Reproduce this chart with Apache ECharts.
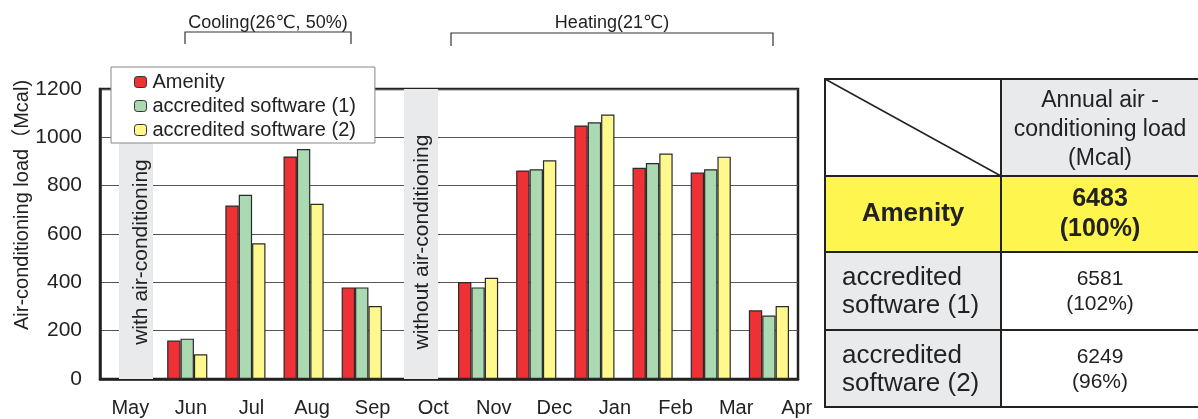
<!DOCTYPE html>
<html>
<head>
<meta charset="utf-8">
<script src="https://cdn.jsdelivr.net/npm/echarts@6/dist/echarts.min.js"></script>
<style>
html,body{margin:0;padding:0;background:#fff;}
#chart{width:1198px;height:419px;}
</style>
</head>
<body>
<div id="chart"></div>
<script>
// ---- data ----
const months = ['May','Jun','Jul','Aug','Sep','Oct','Nov','Dec','Jan','Feb','Mar','Apr'];
const seriesNames = ['Amenity','accredited software (1)','accredited software (2)'];
const amenity   = [null,159,718,921,379,null,401,863,1049,874,854,284];
const software1 = [null,167,762,952,379,null,379,868,1062,894,868,263];
const software2 = [null,102,562,725,302,null,419,905,1094,933,920,302];
const yTicks = [0,200,400,600,800,1000,1200];
const tableRowNames = ['Amenity','accredited\nsoftware (1)','accredited\nsoftware (2)'];
const tableTotals = [6483,6581,6249];
const tablePercents = ['100%','102%','96%'];
const tableHeader = 'Annual air -\nconditioning load\n(Mcal)';

const FONT = '"Liberation Sans", Arial, "DejaVu Sans", "Noto Sans CJK SC", sans-serif';
const colors = ['#ee3134','#abd9b2','#fff88c'];
const TXT = '#222';

const chart = echarts.init(document.getElementById('chart'), null, {renderer:'canvas'});

const graphics = [];
// grey boxes
graphics.push({type:'rect', z:1, shape:{x:119,y:89,width:34,height:290}, style:{fill:'#e9eaec'}});
graphics.push({type:'rect', z:1, shape:{x:404,y:89,width:34,height:290}, style:{fill:'#e9eaec'}});
graphics.push({type:'text', z:3, x:141, y:252, rotation:Math.PI/2,
  style:{text:'with air-conditioning', font:'21px '+FONT, fill:TXT, align:'center', verticalAlign:'middle'}});
graphics.push({type:'text', z:3, x:422, y:242, rotation:Math.PI/2,
  style:{text:'without air-conditioning', font:'21px '+FONT, fill:TXT, align:'center', verticalAlign:'middle'}});
// y axis title
graphics.push({type:'text', z:3, x:22, y:205, rotation:Math.PI/2,
  style:{text:'Air-conditioning load（Mcal)', font:'20px '+FONT, fill:TXT, align:'center', verticalAlign:'middle'}});
// season brackets
graphics.push({type:'text', z:3, x:268, y:23,
  style:{text:'Cooling(26℃, 50%)', font:'18px '+FONT, fill:TXT, align:'center', verticalAlign:'middle'}});
graphics.push({type:'polyline', z:3, shape:{points:[[185,44],[185,32],[351,32],[351,44]]}, style:{stroke:'#333', lineWidth:1.2, fill:null}});
graphics.push({type:'text', z:3, x:612, y:23,
  style:{text:'Heating(21℃)', font:'18px '+FONT, fill:TXT, align:'center', verticalAlign:'middle'}});
graphics.push({type:'polyline', z:3, shape:{points:[[451,46],[451,33],[773,33],[773,46]]}, style:{stroke:'#333', lineWidth:1.2, fill:null}});

// table
const tx0 = 825, tx1 = 1001, tx2 = 1205;
const rowY = [79,176,252,330,407];
graphics.push({type:'rect', z:1, shape:{x:tx1,y:rowY[0],width:tx2-tx1,height:rowY[1]-rowY[0]}, style:{fill:'#e9eaec'}});
graphics.push({type:'rect', z:1, shape:{x:tx0,y:rowY[1],width:tx2-tx0,height:rowY[2]-rowY[1]}, style:{fill:'#fff54f'}});
graphics.push({type:'rect', z:1, shape:{x:tx0,y:rowY[2],width:tx1-tx0,height:rowY[4]-rowY[2]}, style:{fill:'#e9eaec'}});
const lineStyle = {stroke:'#222', lineWidth:2};
rowY.forEach(y=>graphics.push({type:'line', z:2, shape:{x1:tx0-1,y1:y,x2:tx2,y2:y}, style:lineStyle}));
graphics.push({type:'line', z:2, shape:{x1:tx0,y1:rowY[0],x2:tx0,y2:rowY[4]}, style:lineStyle});
graphics.push({type:'line', z:2, shape:{x1:tx1,y1:rowY[0],x2:tx1,y2:rowY[4]}, style:lineStyle});
graphics.push({type:'line', z:2, shape:{x1:tx0,y1:rowY[0],x2:tx1,y2:rowY[1]}, style:{stroke:'#222', lineWidth:1.5}});
graphics.push({type:'text', z:3, x:1100, y:130,
  style:{text:tableHeader, font:'23px '+FONT, lineHeight:29, fill:TXT, align:'center', verticalAlign:'middle'}});
tableRowNames.forEach((name,i)=>{
  const cy = (rowY[i+1]+rowY[i+2])/2;
  if(i===0){
    graphics.push({type:'text', z:3, x:(tx0+tx1)/2, y:cy,
      style:{text:name, font:'bold 26px '+FONT, fill:TXT, align:'center', verticalAlign:'middle'}});
    graphics.push({type:'text', z:3, x:1100, y:cy,
      style:{text:tableTotals[i]+'\n('+tablePercents[i]+')', font:'bold 25px '+FONT, lineHeight:30, fill:TXT, align:'center', verticalAlign:'middle'}});
  } else {
    graphics.push({type:'text', z:3, x:842, y:cy+1,
      style:{text:name, font:'26px '+FONT, lineHeight:28, fill:TXT, align:'left', verticalAlign:'middle'}});
    graphics.push({type:'text', z:3, x:1100, y:cy+1,
      style:{text:tableTotals[i]+'\n('+tablePercents[i]+')', font:'21px '+FONT, lineHeight:25, fill:TXT, align:'center', verticalAlign:'middle'}});
  }
});

const barStyle = (c)=>({color:c, borderColor:'#2a2a2a', borderWidth:1.2});
const option = {
  animation:false,
  backgroundColor:'#fff',
  textStyle:{fontFamily:FONT},
  grid:[
    {left:100, top:89, width:698, height:290, show:true, borderColor:'#222', borderWidth:2.5, containLabel:false},
    {left:100, top:89, width:727, height:290, show:false}
  ],
  legend:{
    orient:'vertical', left:111, top:67, z:10,
    backgroundColor:'#fff', borderColor:'#888', borderWidth:1,
    padding:[5,19,3,23], itemGap:4, itemWidth:12, itemHeight:11,
    itemStyle:{borderColor:'#333', borderWidth:1},
    textStyle:{fontSize:20, lineHeight:20, color:TXT, fontFamily:FONT, padding:[0,0,0,1]},
    data:seriesNames
  },
  xAxis:[
    {type:'category', gridIndex:0, data:months,
     axisLine:{lineStyle:{color:'#222', width:2.5}},
     axisTick:{inside:true, length:5, lineStyle:{color:'#222', width:1}},
     axisLabel:{show:false}},
    {type:'category', gridIndex:1, data:months,
     axisLine:{show:false}, axisTick:{show:false},
     axisLabel:{fontSize:20, color:TXT, margin:19, fontFamily:FONT}}
  ],
  yAxis:[
    {type:'value', gridIndex:0, min:yTicks[0], max:yTicks[yTicks.length-1], interval:200,
     axisLine:{show:true, lineStyle:{color:'#222', width:2.5}},
     axisTick:{show:false},
     axisLabel:{fontSize:21, color:TXT, margin:18, fontFamily:FONT, padding:[6,0,0,0], formatter:(v)=>String(v)},
     splitLine:{lineStyle:{color:'#555', width:1}}},
    {type:'value', gridIndex:1, show:false, min:0, max:1200}
  ],
  series:[
    {name:seriesNames[0], type:'bar', data:amenity, barGap:'0%', barCategoryGap:'31%', itemStyle:barStyle(colors[0]), z:3},
    {name:seriesNames[1], type:'bar', data:software1, barGap:'0%', barCategoryGap:'31%', itemStyle:barStyle(colors[1]), z:3},
    {name:seriesNames[2], type:'bar', data:software2, barGap:'0%', barCategoryGap:'31%', itemStyle:barStyle(colors[2]), z:3}
  ],
  graphic:{elements:graphics}
};
chart.setOption(option);
</script>
</body>
</html>
